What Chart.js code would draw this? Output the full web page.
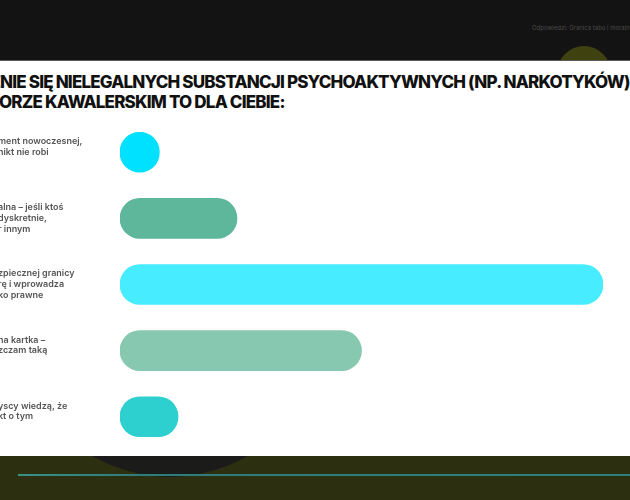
<!DOCTYPE html>
<html>
<head>
<meta charset="utf-8">
<script src="https://cdn.jsdelivr.net/npm/chart.js@4.4.1/dist/chart.umd.min.js"></script>
<style>
  html, body { margin: 0; padding: 0; }
  body { width: 630px; height: 500px; background: #131313; position: relative; overflow: hidden; font-family: Inter, Roboto, sans-serif; }
  #topnote { position: absolute; left: 532px; top: 24px; font-size: 6px; color: #4a4a4a; white-space: nowrap; }
  #blob { position: absolute; left: 557px; top: 46px; width: 54px; height: 54px; border-radius: 50%; background: #3f410f; }
  #bottom { position: absolute; left: 0; top: 456px; width: 630px; height: 44px; background: #2c2f10; overflow: hidden; }
  #bigdark { position: absolute; left: 265px; top: 209px; width: 670px; height: 670px; border-radius: 50%; background: #23250f; }
  #ellipse { position: absolute; left: 17px; top: -285px; width: 306px; height: 306px; border-radius: 50%; background: #1b1b1a; }
  #teal { position: absolute; left: 18px; top: 18px; width: 612px; height: 2px; background: linear-gradient(90deg, #3a8f86, #2e7c7c 20%, #2f7f80); }
  #panel { position: absolute; left: 0; top: 60px; width: 630px; height: 396px; background: #ffffff; border-top: 1px solid #5c5c5c; box-sizing: border-box; overflow: hidden; }
  .tline { position: absolute; white-space: nowrap; font-family: Inter, Roboto, sans-serif; font-weight: 800; font-size: 17px; line-height: 19px; color: #111; letter-spacing: -0.6px; }
  #t1 { top: 12px; left: -80px; }
  #t2 { top: 32px; left: -90px; }
  #chartbox { position: absolute; left: 0; top: 42px; width: 630px; height: 363px; }
</style>
</head>
<body>
<div id="topnote">Odpowiedzi: Granica tabu i moralności</div>
<div id="blob"></div>
<div id="bottom">
  <div id="bigdark"></div>
  <div id="ellipse"></div>
  <div id="teal"></div>
</div>
<div id="panel">
  <div class="tline" id="t1">POJAWIENIE SIĘ NIELEGALNYCH SUBSTANCJI PSYCHOAKTYWNYCH (NP. NARKOTYKÓW)</div>
  <div class="tline" id="t2">NA WIECZORZE KAWALERSKIM TO DLA CIEBIE:</div>
  <div id="chartbox"><canvas id="c"></canvas></div>
</div>
<script>
// ---- data ----
const categories = [
  ["ment nowoczesnej,", "nikt nie robi", ""],
  ["alna – jeśli ktoś", "dyskretnie,", "r innym"],
  ["zpiecznej granicy", "rę i wprowadza", "ko prawne"],
  ["na kartka –", "zczam taką", ""],
  ["yscy wiedzą, że", "kt o tym", ""]
];
const values = [4.2, 12.5, 51.6, 25.8, 6.2];
const barColors = ["#00e1ff", "#5eb69b", "#48ecff", "#87c8b1", "#2ecfcf"];

// fit the title's tracking and hide the start of each line as in the reference
function layoutTitle() {
  const t1 = document.getElementById('t1');
  const t2 = document.getElementById('t2');
  function width(el, a, b) {
    const r = document.createRange();
    r.setStart(el.firstChild, a);
    r.setEnd(el.firstChild, b);
    return r.getBoundingClientRect().width;
  }
  const txt = t1.textContent;
  const a = 'POJAWIE'.length;
  const b = txt.indexOf('NARKOTYKÓW') + 'NARKOTYKÓW'.length;
  for (let i = 0; i < 3; i++) {
    const cur = width(t1, a, b);
    const ls = parseFloat(getComputedStyle(t1).letterSpacing) || 0;
    const nls = ls + (624 - cur) / (b - a);
    t1.style.letterSpacing = nls + 'px';
    t2.style.letterSpacing = nls + 'px';
  }
  t1.style.left = (-width(t1, 0, a) + 0) + 'px';
  t2.style.left = (-width(t2, 0, 'NA WIECZ'.length) - 1) + 'px';
}
layoutTitle();
if (document.fonts && document.fonts.ready) document.fonts.ready.then(layoutTitle);

new Chart(document.getElementById('c'), {
  type: 'bar',
  data: {
    labels: categories,
    datasets: [{
      data: values,
      backgroundColor: barColors,
      borderRadius: 20,
      borderSkipped: false,
      barThickness: 40
    }]
  },
  options: {
    indexAxis: 'y',
    responsive: true,
    maintainAspectRatio: false,
    animation: false,
    layout: { padding: { left: -2, right: 27, top: 0, bottom: 0 } },
    plugins: { legend: { display: false }, tooltip: { enabled: false } },
    scales: {
      x: {
        display: false,
        min: 0,
        max: Math.max(...values)
      },
      y: {
        grid: { display: false },
        border: { display: false },
        afterFit: (axis) => { axis.width = 122; },
        ticks: {
          crossAlign: 'far',
          color: '#555555',
          font: { family: 'Inter', size: 9, weight: '600', lineHeight: 1.2 },
          padding: 0
        }
      }
    }
  }
});
</script>
</body>
</html>
